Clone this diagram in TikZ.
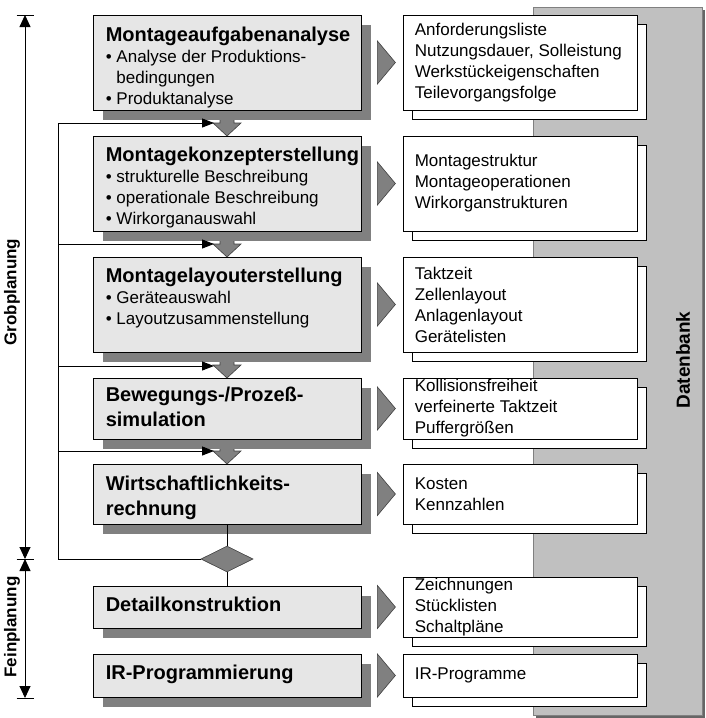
\documentclass[tikz,border=0pt]{standalone}
\usepackage{fontspec}
\setmainfont{Liberation Sans}
\usetikzlibrary{arrows.meta,shapes.geometric,shadows}
\definecolor{boxfill}{HTML}{E6E6E6}
\definecolor{shade}{HTML}{808080}
\definecolor{panelgray}{HTML}{C0C0C0}
\definecolor{edge}{HTML}{404040}
\newcommand{\blt}{\textbullet\ }
\newcommand{\bind}{\hphantom{\textbullet\ }}

\begin{document}
\begin{tikzpicture}[x=1pt,y=-1pt,
  lbox/.style={draw=black, line width=0.8pt, fill=boxfill, minimum width=268pt,
    inner sep=0pt, general shadow={fill=shade, shadow xshift=10pt, shadow yshift=-10pt}},
  rbox/.style={draw=black, line width=0.8pt, fill=white, minimum width=234pt,
    inner sep=0pt, general shadow={fill=white, draw=black, line width=0.8pt,
    shadow xshift=9pt, shadow yshift=-9pt}},
  ltext/.style={anchor=north west, inner sep=0pt, align=left,
    font=\fontsize{17}{21}\selectfont},
  ttext/.style={anchor=north west, inner sep=0pt, align=left,
    font=\fontsize{20}{25}\selectfont\bfseries},
  rtext/.style={anchor=west, inner sep=0pt, align=left,
    font=\fontsize{17}{21}\selectfont},
  outarrow/.style={fill=shade, draw=edge, line width=0.6pt},
  blockarrow/.style={fill=shade, draw=edge, line width=0.6pt},
  loopline/.style={line width=1pt, -{Triangle[length=12pt,width=9pt]}},
  spine/.style={line width=1pt},
  link/.style={line width=0.8pt},
  axisline/.style={line width=0.9pt,
    {Triangle[length=12pt,width=11pt]}-{Triangle[length=12pt,width=11pt]}},
  tick/.style={line width=0.9pt},
  panel/.style={draw=shade, line width=0.8pt, fill=panelgray, minimum width=169pt,
    minimum height=708pt, inner sep=0pt,
    general shadow={fill=shade!80!black, shadow xshift=3pt, shadow yshift=-3pt}},
  axislabel/.style={rotate=90, inner sep=0pt, font=\fontsize{17}{20}\selectfont\bfseries},
]
\useasboundingbox (0,0) rectangle (705,718);

% database panel in the background
\node[panel] (db) at (617.5,361) {};
\node[rotate=90, inner sep=0pt, font=\fontsize{19}{22}\selectfont\bfseries] (dblabel) at (683,360) {Datenbank};

% down block arrows between the process steps (drawn first, box shadows cover their tops)
\coordinate (tip2) at (227,136);
\coordinate (tip3) at (227,257);
\coordinate (tip4) at (227,378);
\coordinate (tip5) at (227,464);
\foreach \t in {tip2,tip3,tip4,tip5}{
  \filldraw[blockarrow] (\t) -- ([shift={(-14pt,13pt)}]\t) -- ([shift={(-7pt,13pt)}]\t)
    -- ([shift={(-7pt,20pt)}]\t) -- ([shift={(7pt,20pt)}]\t) -- ([shift={(7pt,13pt)}]\t)
    -- ([shift={(14pt,13pt)}]\t) -- cycle;
}

% process steps
\node[lbox, minimum height=95pt] (l1) at (227,62.5) {};
\node[lbox, minimum height=95pt] (l2) at (227,183.5) {};
\node[lbox, minimum height=95pt] (l3) at (227,304.5) {};
\node[lbox, minimum height=61pt] (l4) at (227,408.5) {};
\node[lbox, minimum height=60pt] (l5) at (227,494) {};
\node[lbox, minimum height=42pt] (l6) at (227,607) {};
\node[lbox, minimum height=43pt] (l7) at (227,675.5) {};

\node[ltext] (t1) at ([shift={(13pt,-12pt)}]l1.north west)
  {{\fontsize{20}{21}\selectfont\bfseries Montageaufgabenanalyse}\\
   \blt Analyse der Produktions-\\
   \bind bedingungen\\
   \blt Produktanalyse};
\node[ltext] (t2) at ([shift={(13pt,-11pt)}]l2.north west)
  {{\fontsize{20}{21}\selectfont\bfseries Montagekonzepterstellung}\\
   \blt strukturelle Beschreibung\\
   \blt operationale Beschreibung\\
   \blt Wirkorganauswahl};
\node[ltext] (t3) at ([shift={(13pt,-11pt)}]l3.north west)
  {{\fontsize{20}{21}\selectfont\bfseries Montagelayouterstellung}\\
   \blt Geräteauswahl\\
   \blt Layoutzusammenstellung};
\node[ttext] (t4) at ([shift={(13pt,-9pt)}]l4.north west)
  {Bewegungs-/Prozeß-\\simulation};
\node[ttext] (t5) at ([shift={(13pt,-12pt)}]l5.north west)
  {Wirtschaftlichkeits-\\rechnung};
\node[ttext, anchor=west] (t6) at ([shift={(13pt,3pt)}]l6.west) {Detailkonstruktion};
\node[ttext, anchor=west] (t7) at ([shift={(13pt,1pt)}]l7.west) {IR-Programmierung};

% result documents
\node[rbox, minimum height=95pt] (r1) at (520,62.5) {};
\node[rbox, minimum height=95pt] (r2) at (520,183.5) {};
\node[rbox, minimum height=95pt] (r3) at (520,304.5) {};
\node[rbox, minimum height=61pt] (r4) at (520,408.5) {};
\node[rbox, minimum height=60pt] (r5) at (520,494) {};
\node[rbox, minimum height=60pt] (r6) at (520,607) {};
\node[rbox, minimum height=43pt] (r7) at (520,675.5) {};

\node[rtext] (rt1) at ([xshift=12pt]r1.west)
  {Anforderungsliste\\Nutzungsdauer, Solleistung\\Werkstückeigenschaften\\Teilevorgangsfolge};
\node[rtext] (rt2) at ([xshift=12pt]r2.west)
  {Montagestruktur\\Montageoperationen\\Wirkorganstrukturen};
\node[rtext] (rt3) at ([xshift=12pt]r3.west)
  {Taktzeit\\Zellenlayout\\Anlagenlayout\\Gerätelisten};
\node[rtext] (rt4) at ([xshift=12pt]r4.west)
  {Kollisionsfreiheit\\verfeinerte Taktzeit\\Puffergrößen};
\node[rtext] (rt5) at ([xshift=12pt]r5.west)
  {Kosten\\Kennzahlen};
\node[rtext] (rt6) at ([xshift=12pt]r6.west)
  {Zeichnungen\\Stücklisten\\Schaltpläne};
\node[rtext] (rt7) at ([xshift=12pt]r7.west)
  {IR-Programme};

% output triangles from each step to its documents
\foreach \s in {l1,l2,l3,l4,l5,l6,l7}{
  \filldraw[outarrow] ([shift={(16pt,21.5pt)}]\s.east) -- ([shift={(34pt,0pt)}]\s.east)
    -- ([shift={(16pt,-21.5pt)}]\s.east) -- cycle;
}

% decision and iteration loop
\node[diamond, draw=edge, fill=shade, line width=0.6pt, minimum width=52pt,
  minimum height=26pt, inner sep=0pt] (dia) at (227,559) {};
\draw[link] (l5.south) -- (dia.north);
\draw[link] (dia.south) -- (l6.north);

\coordinate (x0) at (58,0);
\coordinate (in1) at ([shift={(-13pt,13pt)}]tip2);
\coordinate (in2) at ([shift={(-13pt,13pt)}]tip3);
\coordinate (in3) at ([shift={(-13pt,12pt)}]tip4);
\coordinate (in4) at ([shift={(-13pt,13pt)}]tip5);
\draw[spine] (dia.west) -- (dia.west -| x0) -- (in1 -| x0);
\draw[loopline] (in1 -| x0) -- (in1);
\draw[loopline] (in2 -| x0) -- (in2);
\draw[loopline] (in3 -| x0) -- (in3);
\draw[loopline] (in4 -| x0) -- (in4);

% planning phases axis
\coordinate (ax1) at (25,15);
\coordinate (ax2) at (25,559);
\coordinate (ax3) at (25,698);
\draw[axisline] (ax1) -- (ax2);
\draw[axisline] (ax2) -- (ax3);
\foreach \a in {ax1,ax2,ax3}{
  \draw[tick] ([xshift=-8.5pt]\a) -- ([xshift=8.5pt]\a);
}
\node[axislabel] (grob) at (12,292) {Grobplanung};
\node[axislabel] (fein) at (12,627) {Feinplanung};
\end{tikzpicture}
\end{document}
